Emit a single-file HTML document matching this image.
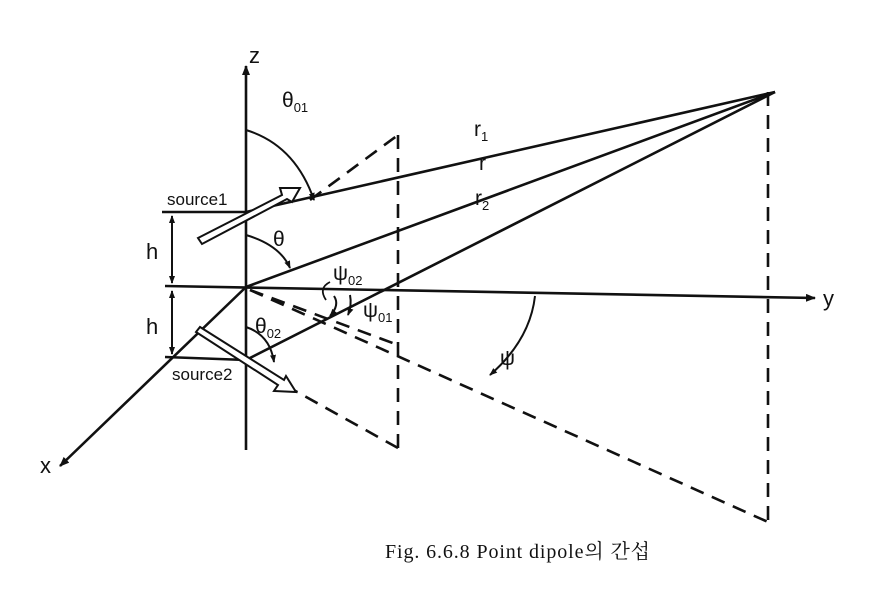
<!DOCTYPE html>
<html><head><meta charset="utf-8"><style>
body{margin:0;background:#fff;}
svg text{font-family:"Liberation Sans",sans-serif;fill:#111;}
</style></head><body>
<svg width="891" height="589" viewBox="0 0 891 589" xmlns="http://www.w3.org/2000/svg">
<defs>
<marker id="a" markerWidth="10" markerHeight="8" refX="9" refY="4" orient="auto" markerUnits="userSpaceOnUse"><path d="M0,0 L10,4 L0,8 Z" fill="#111"/></marker>
<marker id="s" markerWidth="8" markerHeight="8" refX="7" refY="4" orient="auto" markerUnits="userSpaceOnUse"><path d="M0,1 L8,4 L0,7 Z" fill="#111"/></marker>
</defs>
<g stroke="#111" stroke-width="2.6" fill="none">
<line x1="246" y1="450" x2="246" y2="66" marker-end="url(#a)"/>
<line x1="165" y1="286" x2="815" y2="298" marker-end="url(#a)"/>
<line x1="246" y1="287" x2="60" y2="466" marker-end="url(#a)"/>
<line x1="162" y1="212" x2="248" y2="212"/>
<line x1="165" y1="357" x2="246" y2="360"/>
<line x1="172" y1="216" x2="172" y2="283" stroke-width="2" marker-end="url(#s)"/>
<line x1="172" y1="283" x2="172" y2="216" stroke-width="2" marker-end="url(#s)"/>
<line x1="172" y1="291" x2="172" y2="354" stroke-width="2" marker-end="url(#s)"/>
<line x1="172" y1="354" x2="172" y2="291" stroke-width="2" marker-end="url(#s)"/>
<line x1="246" y1="212" x2="775" y2="92"/>
<line x1="246" y1="287" x2="775" y2="92"/>
<line x1="246" y1="360" x2="775" y2="92"/>
<g stroke-dasharray="14,9">
<line x1="310" y1="200" x2="398" y2="135"/>
<line x1="398" y1="135" x2="398" y2="448"/>
<line x1="398" y1="448" x2="290" y2="388"/>
<line x1="768" y1="92" x2="768" y2="522"/>
<line x1="250" y1="290" x2="768" y2="522"/>
<line x1="250" y1="290" x2="398" y2="345"/>
</g>
<path d="M246,130 Q295,145 314,200" stroke-width="2" marker-end="url(#s)"/>
<path d="M246,235 Q280,245 290,268" stroke-width="2" marker-end="url(#s)"/>
<path d="M246,327 Q270,335 274,362" stroke-width="2" marker-end="url(#s)"/>
<path d="M535,296 Q530,340 490,375" stroke-width="2" marker-end="url(#s)"/>
<path d="M334,296 Q340,305 330,316" stroke-width="2" marker-end="url(#s)"/>
<path d="M350,295 Q352,305 348,315" stroke-width="2" marker-end="url(#s)"/>
<path d="M330,282 Q318,288 326,300" stroke-width="1.8"/>
</g>
<g fill="#fff" stroke="#111" stroke-width="2">
<polygon points="198,238 282,195 280,188 300,188 292,202 287,199 202,244"/>
<polygon points="196,332 278,385 274,391 296,392 286,376 284,380 200,327"/>
</g>
<g font-size="17">
<text x="249" y="63" font-size="22">z</text>
<text x="823" y="306" font-size="22">y</text>
<text x="40" y="473" font-size="22">x</text>
<text x="167" y="205">source1</text>
<text x="172" y="380">source2</text>
<text x="146" y="259" font-size="22">h</text>
<text x="146" y="334" font-size="22">h</text>
<text x="282" y="107" font-size="21">θ<tspan font-size="13" dy="5">01</tspan></text>
<text x="273" y="246" font-size="21">θ</text>
<text x="255" y="333" font-size="21">θ<tspan font-size="13" dy="5">02</tspan></text>
<text x="333" y="280" font-size="21">ψ<tspan font-size="13" dy="5">02</tspan></text>
<text x="363" y="317" font-size="21">ψ<tspan font-size="13" dy="5">01</tspan></text>
<text x="500" y="365" font-size="21">ψ</text>
<text x="474" y="136" font-size="21">r<tspan font-size="13" dy="5">1</tspan></text>
<text x="479" y="170" font-size="21">r</text>
<text x="475" y="205" font-size="21">r<tspan font-size="13" dy="5">2</tspan></text>
</g>
<text x="385" y="558" font-size="20" textLength="265" style="font-family:'Liberation Serif','Noto Serif CJK SC',serif">Fig. 6.6.8  Point dipole의 간섭</text>
</svg>
</body></html>
